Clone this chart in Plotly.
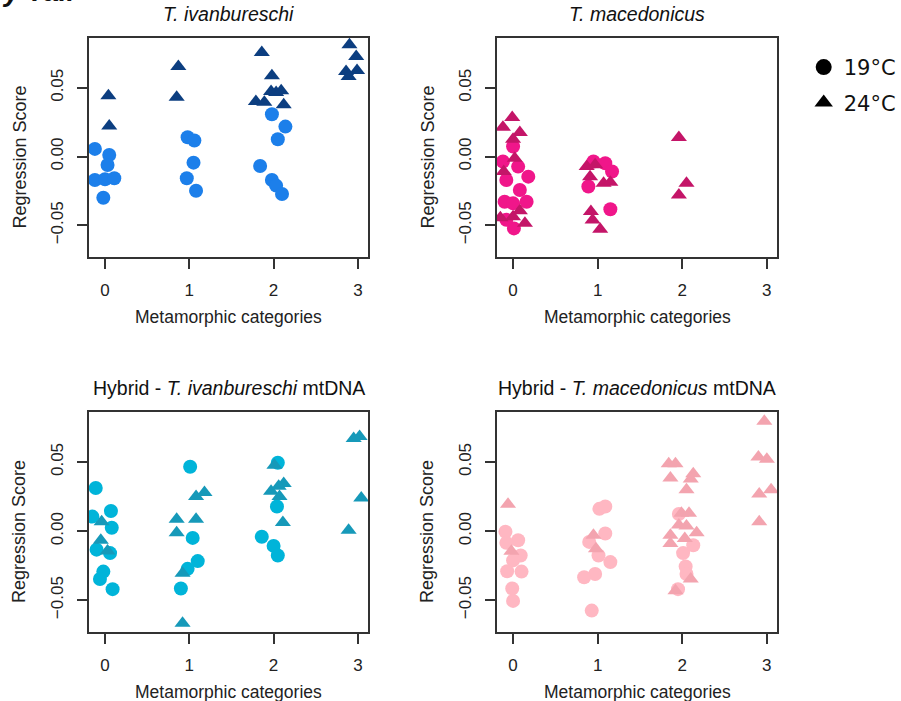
import plotly.graph_objects as go

# ---------------- data ----------------
categories = [0, 1, 2, 3]
y_ticks = [-0.05, 0.0, 0.05]

titles = ["<i>T. ivanbureschi</i>", "<i>T. macedonicus</i>",
          "Hybrid - <i>T. ivanbureschi</i> mtDNA", "Hybrid - <i>T. macedonicus</i> mtDNA"]

# Panel 1: T. ivanbureschi
p1_c19_x = [-0.12, 0.05, 0.03, -0.12, 0.0, 0.11, -0.02, 0.98, 1.06, 1.05, 0.97, 1.08, 1.98, 2.14, 2.05, 1.84, 1.98, 2.03, 2.10]
p1_c19_y = [0.0056, 0.0012, -0.0061, -0.0170, -0.0165, -0.0158, -0.0299, 0.0141, 0.0117, -0.0044, -0.0158, -0.0248, 0.0308, 0.0218, 0.0126, -0.0068, -0.0170, -0.0211, -0.0272]
p1_t24_x = [0.04, 0.05, 0.87, 0.85, 1.86, 1.98, 1.97, 2.03, 2.09, 1.79, 1.89, 2.12, 2.90, 2.98, 2.86, 2.99, 2.89]
p1_t24_y = [0.0442, 0.0223, 0.0655, 0.0432, 0.0757, 0.0587, 0.0473, 0.0466, 0.0478, 0.0400, 0.0395, 0.0376, 0.0813, 0.0728, 0.0619, 0.0626, 0.0583]

# Panel 2: T. macedonicus
p2_c19_x = [0.0, -0.12, 0.06, -0.08, 0.18, 0.08, 0.16, -0.10, 0.0, 0.01, -0.08, 0.95, 1.09, 1.17, 0.89, 1.15]
p2_c19_y = [0.0073, -0.0036, -0.0073, -0.0170, -0.0146, -0.0243, -0.0328, -0.0328, -0.0340, -0.0522, -0.0460, -0.0036, -0.0049, -0.0109, -0.0218, -0.0383]
p2_t24_x = [-0.01, -0.12, 0.08, 0.0, 0.02, -0.11, -0.15, 0.0, 0.08, 0.14, 0.87, 0.97, 0.91, 1.07, 1.15, 0.92, 0.94, 1.03, 1.96, 2.05, 1.96]
p2_t24_y = [0.0284, 0.0214, 0.0175, 0.0126, -0.0012, -0.0109, -0.0444, -0.0437, -0.0393, -0.0485, -0.0073, -0.0060, -0.0146, -0.0194, -0.0187, -0.0400, -0.0461, -0.0529, 0.0138, -0.0194, -0.0279]

# Panel 3: Hybrid - T. ivanbureschi mtDNA
p3_c19_x = [-0.11, 1.01, 2.05, 2.04, 0.07, -0.15, 0.08, -0.10, 0.06, -0.02, -0.06, 0.09, 1.04, 1.10, 0.98, 0.90, 1.86, 2.00, 2.05]
p3_c19_y = [0.0312, 0.0466, 0.0495, 0.0178, 0.0146, 0.0105, 0.0024, -0.0134, -0.0159, -0.0293, -0.0346, -0.0420, -0.0049, -0.0217, -0.0273, -0.0415, -0.0041, -0.0107, -0.0176]
p3_t24_x = [2.95, 3.02, 3.04, 2.89, 2.01, 1.97, 2.12, 2.06, 2.07, 2.11, 1.08, 1.18, 0.85, 1.08, 0.85, 0.92, 0.92, -0.04, -0.05, 0.03]
p3_t24_y = [0.0671, 0.0685, 0.0239, 0.0007, 0.0476, 0.0288, 0.0344, 0.0324, 0.0251, 0.0063, 0.0251, 0.0280, 0.0085, 0.0085, -0.0012, -0.0305, -0.0667, 0.0068, -0.0066, -0.0144]

# Panel 4: Hybrid - T. macedonicus mtDNA
p4_c19_x = [1.02, 1.09, 1.09, 0.90, -0.09, 0.06, -0.08, 0.09, 0.0, -0.07, 0.10, -0.01, 0.0, 1.01, 1.15, 0.97, 0.84, 0.93, 1.96, 2.01, 2.13, 2.04, 2.05, 1.95]
p4_c19_y = [0.0161, 0.0178, -0.0017, -0.0078, -0.0005, -0.0066, -0.0085, -0.0176, -0.0212, -0.0290, -0.0293, -0.0415, -0.0505, -0.0176, -0.0224, -0.0310, -0.0334, -0.0575, 0.0124, -0.0159, -0.0102, -0.0256, -0.0310, -0.0420]
p4_t24_x = [2.97, 2.90, 3.00, 2.91, 3.05, 2.91, 1.84, 1.92, 1.86, 2.13, 2.10, 2.05, 1.99, 2.08, 1.96, 2.05, 2.17, 1.86, 1.86, 2.03, 2.10, 1.92, -0.06, 0.95, 0.98, -0.02]
p4_t24_y = [0.0795, 0.0537, 0.0520, 0.0268, 0.0300, 0.0068, 0.0488, 0.0488, 0.0385, 0.0415, 0.0378, 0.0300, 0.0129, 0.0129, 0.0044, 0.0037, -0.0012, -0.0029, -0.0090, -0.0054, -0.0346, -0.0432, 0.0195, -0.0029, -0.0127, -0.0146]

c19_colors = ["#1C7FEA", "#F0168A", "#00B4D9", "#FFB7C2"]
t24_colors = ["#0C3E80", "#C41568", "#1699B9", "#F3A4AF"]

panels = [
    (p1_c19_x, p1_c19_y, p1_t24_x, p1_t24_y),
    (p2_c19_x, p2_c19_y, p2_t24_x, p2_t24_y),
    (p3_c19_x, p3_c19_y, p3_t24_x, p3_t24_y),
    (p4_c19_x, p4_c19_y, p4_t24_x, p4_t24_y),
]

# ---------------- layout geometry (pixels) ----------------
W, H = 901, 701
boxes = [  # (left, right, top, bottom) in px
    (89, 368, 38, 257),
    (497, 777, 38, 257),
    (89, 368, 412, 632),
    (497, 777, 412, 632),
]

def px_x(p):
    return p / W

def px_y(p):
    return 1 - p / H

FONT = "Liberation Sans, Arial, sans-serif"
fig = go.Figure()

for i, (cx, cy, tx, ty) in enumerate(panels):
    n = "" if i == 0 else str(i + 1)
    fig.add_trace(go.Scatter(x=cx, y=cy, mode="markers", xaxis="x" + n, yaxis="y" + n,
                             marker=dict(symbol="circle", size=14, color=c19_colors[i], line=dict(width=0)),
                             showlegend=False, hoverinfo="x+y"))
    fig.add_trace(go.Scatter(x=tx, y=ty, mode="markers", xaxis="x" + n, yaxis="y" + n,
                             marker=dict(symbol="triangle-up", size=14, color=t24_colors[i], line=dict(width=0)),
                             showlegend=False, hoverinfo="x+y"))

# legend entries
fig.add_trace(go.Scatter(x=[None], y=[None], mode="markers", name="19°C", legendgroup="a",
                         marker=dict(symbol="circle", size=16, color="black")))
fig.add_trace(go.Scatter(x=[None], y=[None], mode="markers", name="24°C", legendgroup="b",
                         marker=dict(symbol="triangle-up", size=16, color="black")))

layout = dict(
    width=W, height=H, margin=dict(l=0, r=0, t=0, b=0),
    paper_bgcolor="white", plot_bgcolor="white",
    font=dict(family=FONT, size=16, color="#222"),
    showlegend=True,
    legend=dict(x=0.892, y=0.933, xanchor="left", yanchor="top",
                font=dict(family="DejaVu Sans, Verdana, sans-serif", size=21, color="#111"),
                traceorder="grouped", tracegroupgap=5, itemsizing="trace",
                bgcolor="rgba(0,0,0,0)"),
)

annotations = []
for i, (l, r, t, b) in enumerate(boxes):
    n = "" if i == 0 else str(i + 1)
    xa = dict(domain=[px_x(l), px_x(r)], range=[-0.19, 3.12], tickvals=categories,
              ticks="outside", ticklen=10, tickwidth=1.5, tickcolor="#333",
              ticklabelstandoff=7,
              showline=True, mirror=True, linecolor="#333", linewidth=1.5,
              showgrid=False, zeroline=False, anchor="y" + n,
              tickfont=dict(family=FONT, size=17, color="#222"))
    ya = dict(domain=[px_y(b), px_y(t)], range=[-0.073, 0.0862], tickvals=y_ticks,
              tickformat=".2f", tickangle=-90, ticklabelstandoff=7,
              ticks="outside", ticklen=10, tickwidth=1.5, tickcolor="#333",
              showline=True, mirror=True, linecolor="#333", linewidth=1.5,
              showgrid=False, zeroline=False, anchor="x" + n,
              tickfont=dict(family=FONT, size=17, color="#222"))
    layout["xaxis" + n] = xa
    layout["yaxis" + n] = ya
    cxp = (l + r) / 2
    # panel title
    annotations.append(dict(text=titles[i], x=px_x(cxp), y=px_y(t - 24), xref="paper", yref="paper",
                            showarrow=False, xanchor="center", yanchor="middle",
                            font=dict(family=FONT, size=19.5, color="#111")))
    # x title
    annotations.append(dict(text="Metamorphic categories", x=px_x(cxp), y=px_y(b + 60), xref="paper", yref="paper",
                            showarrow=False, xanchor="center", yanchor="middle",
                            font=dict(family=FONT, size=17.5, color="#222")))
    # y title
    annotations.append(dict(text="Regression Score", x=px_x(l - 70), y=px_y((t + b) / 2 + 10), xref="paper", yref="paper",
                            showarrow=False, xanchor="center", yanchor="middle", textangle=-90,
                            font=dict(family=FONT, size=18, color="#222")))

# cut-off panel label at the very top-left (only its lower edge is visible)
annotations.append(dict(text="<b><i>y Tail</i></b>", x=0.0, y=1.0, xref="paper", yref="paper",
                        showarrow=False, xanchor="left", yanchor="bottom", yshift=-9,
                        font=dict(family=FONT, size=28, color="#111")))

layout["annotations"] = annotations
fig.update_layout(**layout)

fig.write_html("out.html")
